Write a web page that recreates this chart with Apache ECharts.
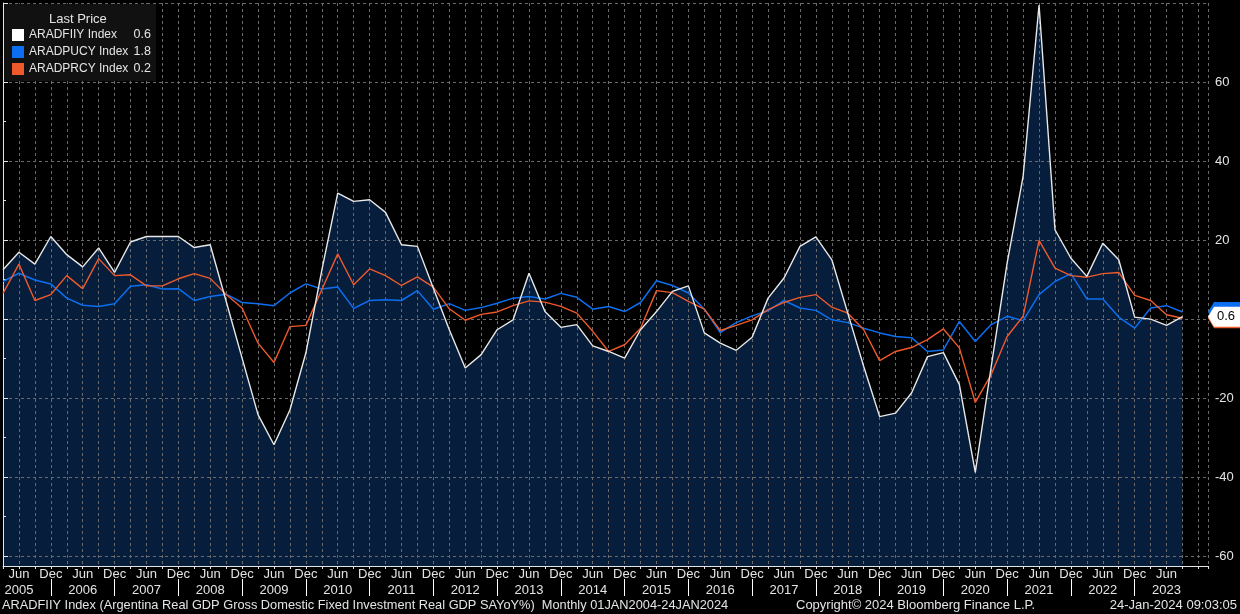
<!DOCTYPE html>
<html>
<head>
<meta charset="utf-8">
<script src="https://cdn.jsdelivr.net/npm/echarts@6/dist/echarts.min.js"></script>
<style>
  html, body { margin: 0; padding: 0; background: #000; }
  #chart { width: 1240px; height: 614px; }
</style>
</head>
<body>
<div id="chart"></div>
<script>
// quarterly points, index 0 = Mar 2005 ... index 74 = Sep 2023
var years = [2005, 2006, 2007, 2008, 2009, 2010, 2011, 2012, 2013, 2014,
             2015, 2016, 2017, 2018, 2019, 2020, 2021, 2022, 2023];
var halfYearLabels = ['Jun', 'Dec'];
var seriesNames = ['ARADFIIY Index', 'ARADPUCY Index', 'ARADPRCY Index'];

var fixedInvestment = [
  12.5, 16.9, 13.9, 20.9, 16.3, 13.2, 18.0, 11.8, 19.5, 20.9,
  20.9, 20.9, 18.1, 18.8, 4.5, -9.9, -24.2, -31.8, -23.0, -8.6,
  12.3, 31.9, 29.8, 30.2, 27.0, 18.8, 18.4, 7.8, -2.7, -12.4,
  -9.0, -2.7, -0.2, 11.6, 1.9, -2.1, -1.4, -6.8, -8.2, -9.9,
  -2.7, 1.9, 7.0, 8.4, -3.5, -6.1, -7.9, -4.6, 5.3, 10.4,
  18.4, 20.8, 15.0, 1.5, -12.0, -24.7, -23.8, -18.7, -9.5, -8.5,
  -16.6, -38.8, -12.0, 14.2, 36.1, 79.5, 22.6, 15.4, 10.8, 19.2,
  15.0, 0.5, 0.0, -1.6, 0.6
];
var publicConsumption = [
  9.5, 11.6, 9.9, 8.9, 5.3, 3.5, 3.2, 3.9, 8.3, 8.7,
  7.6, 7.7, 4.7, 5.7, 6.3, 4.2, 3.9, 3.4, 6.6, 8.9,
  7.6, 8.1, 2.7, 4.7, 4.9, 4.7, 7.2, 2.5, 3.9, 2.2,
  2.9, 4.0, 5.3, 5.7, 5.1, 6.5, 5.5, 2.5, 3.2, 1.9,
  4.2, 9.7, 8.5, 6.6, 2.5, -3.4, -0.9, 0.8, 2.1, 4.7,
  2.8, 2.2, -0.2, -0.9, -2.3, -3.5, -4.4, -4.7, -8.2, -7.8,
  -0.6, -5.7, -1.4, 0.7, -0.4, 6.2, 9.5, 11.5, 5.1, 5.1,
  0.5, -2.3, 2.8, 3.4, 1.8
];
var privateConsumption = [
  6.5, 13.9, 4.7, 6.2, 11.0, 7.7, 15.3, 11.0, 11.2, 8.4,
  8.4, 10.2, 11.5, 10.3, 6.2, 2.8, -6.1, -11.0, -1.9, -1.6,
  7.4, 16.5, 8.7, 12.7, 11.0, 8.5, 10.7, 8.1, 2.6, -0.3,
  1.2, 1.8, 3.4, 4.6, 4.3, 3.2, 1.5, -3.1, -8.2, -6.5,
  -2.3, 7.2, 6.7, 4.5, 2.5, -2.9, -1.6, -0.2, 2.4, 4.2,
  5.5, 6.2, 3.0, 1.5, -2.7, -10.5, -8.2, -7.2, -5.2, -2.5,
  -7.3, -21.1, -14.0, -4.4, 0.7, 19.9, 12.9, 11.0, 10.6, 11.5,
  11.8, 6.0, 4.7, 1.1, 0.2
];

var yTicks = [-60, -40, -20, 0, 20, 40, 60, 80];
var yLabels = [-60, -40, -20, 0, 20, 40, 60];
var yMinorTicks = [-50, -30, -10, 10, 30, 50, 70];

var font = 'Liberation Sans';
var ink = '#e4e4e4';
var gridColor = '#6a6a6a';
var navy = '#061d3b';
var white = '#e8e8e8';
var blue = '#0b6ff0';
var orange = '#ee5a2c';

var lastIdx = fixedInvestment.length - 1;
var xMax = 75.6;

// Jun label index for every year, Dec index as year separator
var junIdx = years.map(function(y, k) { return 1 + 4 * k; });
var decIdx = years.slice(0, -1).map(function(y, k) { return 3 + 4 * k; });

function pairs(arr) {
  return arr.map(function(v, i) { return [i, v]; });
}

function lastMark(arr, color, textColor) {
  var last = arr[arr.length - 1];
  return {
    silent: true,
    animation: false,
    symbol: 'path://M0,10 L6,0 L34,0 L34,20 L6,20 Z',
    symbolSize: [34, 20],
    symbolOffset: [17, 0],
    itemStyle: { color: color },
    label: {
      show: true, position: 'inside', color: textColor,
      fontSize: 13, fontFamily: font, offset: [1, 0],
      formatter: last.toFixed(1)
    },
    data: [{ coord: [xMax, last] }]
  };
}

var lastValues = [fixedInvestment, publicConsumption, privateConsumption].map(function(a) {
  return a[a.length - 1].toFixed(1);
});

var hidden = 'rgba(0,0,0,0)';

var chart = echarts.init(document.getElementById('chart'), null, { renderer: 'canvas' });
chart.setOption({
  animation: false,
  backgroundColor: '#000',
  textStyle: { fontFamily: font },
  title: [
    { text: 'Last Price', left: 49, top: 13, padding: 0,
      textStyle: { color: ink, fontSize: 13, fontWeight: 'normal', fontFamily: font } },
    { text: 'ARADFIIY Index (Argentina Real GDP Gross Domestic Fixed Investment Real GDP SAYoY%)  Monthly 01JAN2004-24JAN2024',
      left: 2, top: 599, padding: 0,
      textStyle: { color: ink, fontSize: 12.8, fontWeight: 'normal', fontFamily: font } },
    { text: 'Copyright\u00a9 2024 Bloomberg Finance L.P.', left: 796, top: 599, padding: 0,
      textStyle: { color: ink, fontSize: 13, fontWeight: 'normal', fontFamily: font } },
    { text: '24-Jan-2024 09:03:05', right: 3, top: 599, padding: 0,
      textStyle: { color: ink, fontSize: 13, fontWeight: 'normal', fontFamily: font } }
  ],
  legend: {
    data: seriesNames,
    orient: 'vertical',
    left: 4, top: 4,
    padding: [23, 5, 4, 8],
    backgroundColor: '#111111',
    selectedMode: false,
    icon: 'rect',
    itemWidth: 12, itemHeight: 12, itemGap: 1,
    textStyle: {
      color: ink, fontSize: 12, fontFamily: font, lineHeight: 16,
      rich: {
        n: { width: 102, color: ink, fontSize: 12, fontFamily: font, lineHeight: 16 },
        v: { width: 20, align: 'right', color: ink, fontSize: 12.5, fontFamily: font, lineHeight: 16 }
      }
    },
    formatter: function(name) {
      return '{n|' + name + '}{v|' + lastValues[seriesNames.indexOf(name)] + '}';
    }
  },
  grid: { left: -2, right: 32, top: 3, bottom: 48 },
  xAxis: [
    {
      type: 'value', min: 0, max: xMax, interval: 1,
      axisLine: { show: true, onZero: false, lineStyle: { color: ink, width: 1 } },
      axisTick: { show: true, inside: false, length: 3, lineStyle: { color: ink } },
      axisLabel: {
        color: ink, fontSize: 13, fontFamily: font, margin: 2,
        formatter: function(v) {
          if (v !== Math.round(v) || v > lastIdx) return '';
          var r = v % 4;
          return r === 1 ? halfYearLabels[0] : (r === 3 ? halfYearLabels[1] : '');
        }
      },
      splitLine: { show: true, lineStyle: { color: gridColor, type: [3, 3], width: 1 } }
    },
    {
      type: 'value', min: 0, max: xMax, position: 'bottom', offset: 13,
      axisLine: { show: true, onZero: false, lineStyle: { color: hidden } },
      axisTick: { show: true, inside: false, length: 17, customValues: decIdx,
                  lineStyle: { color: '#ffffff', width: 1 } },
      axisLabel: {
        customValues: junIdx, color: ink, fontSize: 13, fontFamily: font, margin: 5,
        formatter: function(v) { return String(years[(v - 1) / 4]); }
      },
      splitLine: { show: false }
    }
  ],
  yAxis: [
    {
      type: 'value', position: 'right', min: -62.5, max: 80,
      axisLine: { show: true, lineStyle: { color: ink, width: 1 } },
      axisTick: { show: true, length: 5, customValues: yTicks, lineStyle: { color: ink } },
      axisLabel: { customValues: yLabels, color: ink, fontSize: 13, fontFamily: font, margin: 7 },
      splitLine: { show: true, lineStyle: { color: gridColor, type: [3, 3], width: 1 } }
    },
    {
      type: 'value', position: 'right', min: -62.5, max: 80,
      axisLine: { show: true, lineStyle: { color: hidden } },
      axisLabel: { show: false },
      splitLine: { show: false },
      axisTick: { show: true, length: 3, customValues: yMinorTicks, lineStyle: { color: ink } }
    }
  ],
  series: [
    {
      name: 'fill', type: 'line', data: pairs(fixedInvestment),
      z: -1, silent: true, showSymbol: false,
      lineStyle: { width: 0 },
      itemStyle: { color: navy },
      areaStyle: { color: navy, opacity: 1, origin: 'start' }
    },
    {
      name: seriesNames[1], type: 'line', data: pairs(publicConsumption),
      showSymbol: false, lineStyle: { color: blue, width: 1.5 },
      itemStyle: { color: blue },
      markPoint: lastMark(publicConsumption, blue, '#fff')
    },
    {
      name: seriesNames[2], type: 'line', data: pairs(privateConsumption),
      showSymbol: false, lineStyle: { color: orange, width: 1.4 },
      itemStyle: { color: orange },
      markPoint: lastMark(privateConsumption, orange, '#fff')
    },
    {
      name: seriesNames[0], type: 'line', data: pairs(fixedInvestment),
      showSymbol: false, lineStyle: { color: white, width: 1.4 },
      itemStyle: { color: '#ffffff' },
      markPoint: lastMark(fixedInvestment, '#ffffff', '#000')
    }
  ]
});
</script>
</body>
</html>
